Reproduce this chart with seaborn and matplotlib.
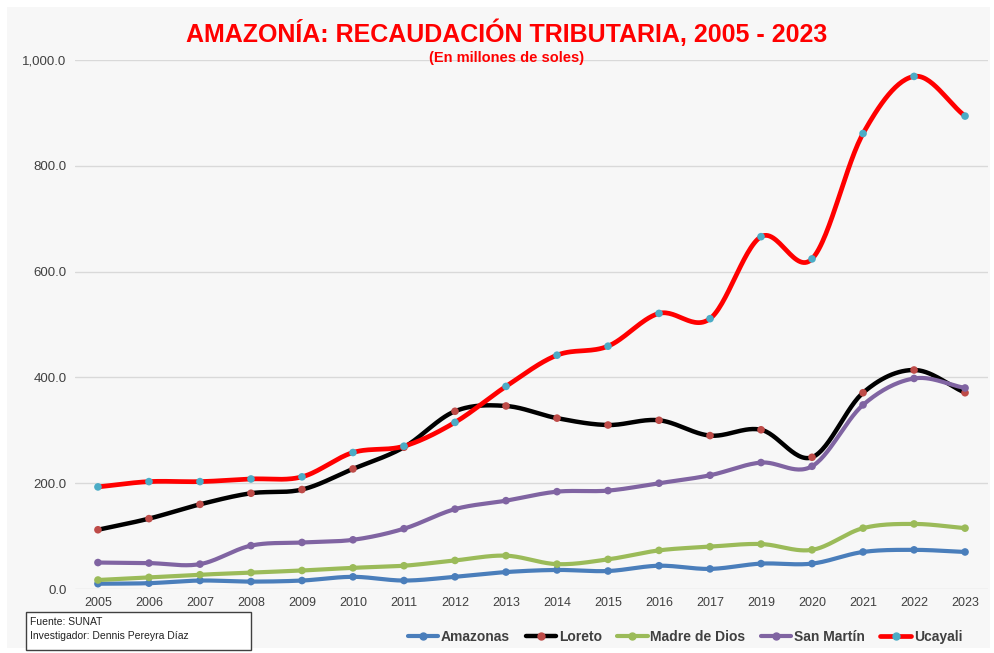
import numpy as np
import pandas as pd
import matplotlib
matplotlib.use("Agg")
import matplotlib.pyplot as plt
import seaborn as sns
from matplotlib.lines import Line2D
from matplotlib.patches import Rectangle

years = ["2005", "2006", "2007", "2008", "2009", "2010", "2011", "2012", "2013",
         "2014", "2015", "2016", "2017", "2019", "2020", "2021", "2022", "2023"]
amazonas = [10, 11, 16, 14, 16, 23, 16, 23, 32, 36, 34, 44, 38, 48, 48, 70, 74, 70]
loreto = [112, 133, 160, 181, 188, 227, 268, 336, 346, 323, 310, 319, 290, 301, 249, 371, 414, 371]
madre_de_dios = [17, 22, 27, 31, 35, 40, 44, 54, 63, 47, 56, 73, 80, 85, 74, 115, 123, 115]
san_martin = [50, 49, 47, 82, 88, 93, 114, 151, 167, 184, 186, 200, 215, 239, 232, 348, 398, 380]
ucayali = [193, 203, 203, 208, 212, 258, 270, 315, 383, 442, 459, 521, 511, 666, 624, 861, 969, 894]

series_names = ["Amazonas", "Loreto", "Madre de Dios", "San Martín", "Ucayali"]
series_vals = [amazonas, loreto, madre_de_dios, san_martin, ucayali]
line_colors = ["#4a7ebb", "#000000", "#9bbb59", "#8064a2", "#ff0000"]
marker_colors = ["#4a7ebb", "#be4b48", "#9bbb59", "#8064a2", "#4bacc6"]
line_widths = [3.0, 3.2, 3.0, 3.0, 3.4]

sns.set_theme(style="white")
plt.rcParams['font.family'] = ['Liberation Sans', 'DejaVu Sans']

fig = plt.figure(figsize=(9.95, 6.53), dpi=100, facecolor="white")
fig.patches.append(Rectangle((7/995, 5/653), 983/995, 641/653, transform=fig.transFigure,
                             facecolor="#f7f7f7", edgecolor="none", zorder=-10))
ax = fig.add_axes([75/995, 1 - 589/653, (988 - 75)/995, (589 - 60)/653])
ax.set_facecolor("none")

def catmull(xs, ys, n=30):
    xs = np.asarray(xs, float); ys = np.asarray(ys, float)
    px = np.concatenate([[2*xs[0]-xs[1]], xs, [2*xs[-1]-xs[-2]]])
    py = np.concatenate([[2*ys[0]-ys[1]], ys, [2*ys[-1]-ys[-2]]])
    ox, oy = [], []
    for i in range(1, len(px) - 2):
        t = np.linspace(0, 1, n, endpoint=False)
        for arr, out in ((px, ox), (py, oy)):
            p0, p1, p2, p3 = arr[i-1], arr[i], arr[i+1], arr[i+2]
            out.extend(0.5*((2*p1) + (-p0+p2)*t + (2*p0-5*p1+4*p2-p3)*t**2 + (-p0+3*p1-3*p2+p3)*t**3))
    ox.append(xs[-1]); oy.append(ys[-1])
    return np.array(ox), np.array(oy)

xpos = np.arange(len(years))
for name, vals, lc, mc, lw in zip(series_names, series_vals, line_colors, marker_colors, line_widths):
    sx, sy = catmull(xpos, vals)
    sns.lineplot(x=sx, y=sy, ax=ax, color=lc, linewidth=lw, sort=False, estimator=None, zorder=3)
    sns.scatterplot(x=xpos, y=vals, ax=ax, color=mc, s=30, edgecolor="none", zorder=4)

ax.set_xlim(-0.45, len(years) - 0.55)
ax.set_ylim(0, 1000)
ax.set_yticks(np.arange(0, 1001, 200))
ax.set_yticklabels([f"{v:,.1f}" for v in np.arange(0, 1001, 200)], fontsize=9.5, color="#404040")
ax.set_xticks(xpos)
ax.set_xticklabels(years, fontsize=9, color="#404040")
ax.tick_params(axis="both", length=0, pad=6)
ax.grid(axis="y", color="#d9d9d9", linewidth=1)
ax.set_axisbelow(True)
for s in ax.spines.values():
    s.set_visible(False)
ax.set_xlabel(""); ax.set_ylabel("")

fig.text(507/995, 1 - 33/653, "AMAZONÍA: RECAUDACIÓN TRIBUTARIA, 2005 - 2023", ha="center", va="center",
         fontsize=18, fontweight="heavy", color="#ff0000")
fig.text(507/995, 1 - 58/653, "(En millones de soles)", ha="center", va="center",
         fontsize=10.5, fontweight="bold", color="#ff0000")

fig.patches.append(Rectangle((26/995, 1 - 650/653), 225/995, 38/653, transform=fig.transFigure,
                             facecolor="white", edgecolor="#404040", linewidth=1, zorder=5))
fig.text(30/995, 1 - 622/653, "Fuente: SUNAT", fontsize=7.5, va="center", color="#222222", zorder=6)
fig.text(30/995, 1 - 636/653, "Investigador: Dennis Pereyra Díaz", fontsize=7.5, va="center",
         color="#222222", zorder=6)

handles = [Line2D([0], [0], color=lc, lw=lw, marker="o", markersize=5, markerfacecolor=mc,
                  markeredgecolor=mc) for lc, mc, lw in zip(line_colors, marker_colors, line_widths)]
leg = fig.legend(handles, series_names, loc="center", bbox_to_anchor=(685/995, 1 - 637/653), ncol=5,
                 frameon=False, fontsize=10, handlelength=2.2, handletextpad=0.2, columnspacing=1.1)
for t in leg.get_texts():
    t.set_fontweight("bold"); t.set_color("#404040")

fig.savefig("out.png", dpi=100, facecolor=fig.get_facecolor())
